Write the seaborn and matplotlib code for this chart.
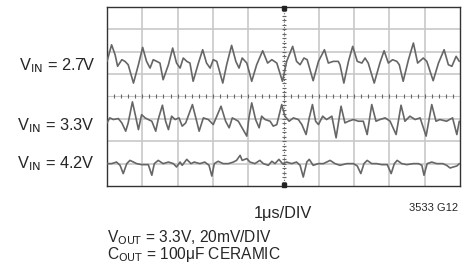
import numpy as np
import pandas as pd
import matplotlib
matplotlib.use('Agg')
import matplotlib.pyplot as plt
import seaborn as sns

# scope readings: time in us (1us/DIV), ripple in mV about each trace baseline (20mV/DIV)
t_27 = [0.00, 0.13, 0.23, 0.30, 0.42, 0.51, 0.60, 0.75, 0.89, 1.01, 1.12, 1.22, 1.31, 1.41,
        1.50, 1.59, 1.74, 1.86, 1.97, 2.07, 2.16, 2.26, 2.35, 2.44, 2.59, 2.71, 2.82, 2.92,
        3.01, 3.11, 3.28, 3.39, 3.53, 3.65, 3.74, 3.83, 3.96, 4.10, 4.24, 4.41, 4.55, 4.67,
        4.81, 4.97, 5.09, 5.26, 5.37, 5.47, 5.58, 5.67, 5.84, 5.99, 6.16, 6.27, 6.41, 6.55,
        6.60, 6.71, 6.84, 6.96, 7.09, 7.22, 7.31, 7.40, 7.57, 7.73, 7.85, 7.97, 8.09, 8.21,
        8.28, 8.39, 8.54, 8.68, 8.80, 8.96, 9.06, 9.24, 9.39, 9.55, 9.67, 9.77, 9.89, 9.98]
v_27 = [0.6, 15.4, 6.5, -3.8, 2.1, 0.6, -2.4, -18.8, -2.4, 13.1, 0.6, -5.4, 2.1, 0.6,
        -0.9, -15.8, -2.4, 12.5, -0.9, -5.4, 3.6, 0.6, -0.9, -17.2, -0.9, 11.0, -0.9, -5.4,
        2.1, 0.6, -18.8, -2.4, 14.9, 0.6, -5.4, 3.6, -0.9, -17.2, -2.4, 10.1, -0.9, 2.1,
        -0.9, -17.2, 0.6, 14.0, 0.6, -2.4, 3.6, 2.1, -16.7, 0.6, 11.0, -0.9, 0.6, 0.6,
        -2.4, -18.8, 0.6, 14.0, 0.6, -0.9, 3.6, -0.9, -18.8, -0.9, 10.1, -0.9, 2.1, 0.6,
        -2.4, -17.2, 2.1, 17.0, -0.9, 3.6, 0.6, -16.7, -0.9, 11.0, -2.4, -3.8, 5.1, 0.6]

t_33 = [0.00, 0.08, 0.18, 0.32, 0.42, 0.53, 0.60, 0.72, 0.81, 0.89, 0.98, 1.08, 1.17, 1.27,
        1.38, 1.45, 1.57, 1.66, 1.74, 1.83, 1.93, 2.04, 2.13, 2.23, 2.42, 2.54, 2.61, 2.73,
        2.87, 3.01, 3.23, 3.36, 3.46, 3.55, 3.72, 3.96, 4.02, 4.10, 4.21, 4.31, 4.38, 4.48,
        4.62, 4.71, 4.81, 4.95, 5.04, 5.16, 5.28, 5.42, 5.52, 5.64, 5.73, 5.82, 5.91, 5.99,
        6.11, 6.22, 6.37, 6.49, 6.63, 6.74, 6.84, 6.98, 7.12, 7.26, 7.37, 7.50, 7.62, 7.73,
        7.88, 8.02, 8.19, 8.33, 8.44, 8.58, 8.73, 8.87, 9.04, 9.20, 9.32, 9.43, 9.62, 9.79,
        9.91, 9.98]
v_33 = [-3.6, 0.9, -0.6, 0.3, -3.6, -11.0, -3.6, 15.2, 2.4, -9.6, 3.8, 0.9, -0.6, -2.1,
        -11.0, -0.6, 12.2, -2.1, -9.6, 2.4, -0.6, 0.9, -6.5, -3.6, 12.8, -2.1, -11.0, 0.9,
        -0.6, -5.1, 11.3, -2.1, -8.0, 0.9, -2.1, -15.4, 0.9, 14.3, -0.6, -8.0, 2.4, -0.6,
        -2.1, -6.5, -5.1, 12.8, 2.4, -2.1, 0.9, -0.6, -5.1, -14.0, 0.9, 12.8, -2.1, -5.1,
        2.4, -0.6, 2.4, -16.9, 11.3, -3.6, -2.1, -0.6, -2.1, -2.1, -14.0, 12.8, -2.1, -0.6,
        0.9, -2.1, -14.0, 12.2, -2.1, 2.4, -0.6, 0.9, -15.4, 12.8, -2.1, -0.6, -2.1, 0.9,
        -14.0, -2.1]

t_42 = [0.00, 0.13, 0.27, 0.37, 0.46, 0.56, 0.65, 0.75, 0.84, 0.98, 1.17, 1.27, 1.34, 1.45,
        1.59, 1.74, 1.88, 1.97, 2.07, 2.13, 2.26, 2.38, 2.47, 2.63, 2.77, 2.89, 2.97, 3.04,
        3.15, 3.29, 3.44, 3.58, 3.67, 3.77, 3.83, 3.96, 4.05, 4.19, 4.33, 4.43, 4.57, 4.67,
        4.76, 4.87, 4.97, 5.09, 5.23, 5.37, 5.47, 5.56, 5.66, 5.73, 5.84, 5.99, 6.13, 6.32,
        6.46, 6.60, 6.79, 6.98, 7.09, 7.19, 7.28, 7.37, 7.50, 7.64, 7.78, 7.94, 8.05, 8.14,
        8.22, 8.35, 8.49, 8.68, 8.82, 8.92, 8.98, 9.07, 9.20, 9.34, 9.51, 9.62, 9.72, 9.81,
        9.91, 9.98]
v_42 = [0.0, 0.0, 1.4, -1.5, -8.9, 0.0, 2.9, 1.4, 0.0, -0.9, -0.9, -10.4, 0.0, 2.9,
        0.0, 1.4, 0.0, -3.0, 1.4, -1.5, 3.8, 0.0, 1.4, 0.0, 1.4, -1.5, -11.1, 0.0,
        2.1, 0.0, 0.0, 1.4, 2.9, 7.4, 2.9, 4.5, 1.4, 0.0, 2.9, 0.0, -1.5, 2.1,
        0.0, 3.8, 0.0, 1.4, 0.0, 1.4, -1.5, -12.0, 1.4, 3.8, -1.5, 0.0, 0.0, 2.9,
        0.0, -1.5, 0.0, 0.0, -2.1, -8.9, 0.0, 2.9, 0.0, 0.0, -0.9, -0.9, -8.9, 0.0,
        2.9, 0.0, -0.9, 0.0, 0.0, -1.5, -10.4, 0.0, 1.4, 0.0, 0.0, -1.5, -3.9, -3.0,
        -2.1, 0.0]

trace_names = ['2.7V', '3.3V', '4.2V']
trace_offsets = [110.8, 60.0, 20.0]   # mV on the screen, 0 = bottom graticule line

frames = []
for name, t, v, off in zip(trace_names, [t_27, t_33, t_42], [v_27, v_33, v_42], trace_offsets):
    frames.append(pd.DataFrame({'t': t, 'mV': np.array(v) + off, 'trace': name}))
df = pd.concat(frames, ignore_index=True)

sns.set_style('white')
plt.rcParams['font.family'] = ['Liberation Sans Narrow', 'Liberation Sans', 'DejaVu Sans']
plt.rcParams['mathtext.fontset'] = 'custom'
plt.rcParams['mathtext.rm'] = 'Liberation Sans Narrow'
plt.rcParams['mathtext.it'] = 'Liberation Sans Narrow'

fig = plt.figure(figsize=(4.77, 2.75), dpi=100)
ax = fig.add_axes([107 / 477, 1 - 186 / 275, 353 / 477, 179 / 275])

# graticule
grid_col = '#c8c8c8'
for gx in range(1, 10):
    if gx != 5:
        ax.axvline(gx, color=grid_col, lw=1.2, zorder=1)
for gy in range(1, 8):
    if gy != 4:
        ax.axhline(gy * 20, color=grid_col, lw=1.2, zorder=1)
ax.axhline(80, color=grid_col, lw=0.8, zorder=1)
ax.axvline(5, color='#666666', lw=0.8, ls=(0, (1, 1.5)), zorder=1)
sub_x = np.arange(0.2, 10, 0.2)
ax.plot(sub_x, np.full_like(sub_x, 80), ls='none', marker='|', ms=2.5, mew=0.8, color='#666666', zorder=2)
sub_y = np.arange(4, 160, 4)
ax.plot(np.full_like(sub_y, 5.0, dtype=float), sub_y, ls='none', marker='_', ms=2.5, mew=0.8, color='#666666', zorder=2)
ax.plot([5, 5], [159, 1], ls='none', marker='s', ms=2.5, color='#222222', zorder=3, clip_on=False)

sns.lineplot(data=df, x='t', y='mV', hue='trace', palette=['#666666'] * 3, estimator=None,
             sort=False, legend=False, lw=1.2, ax=ax, zorder=4)

ax.set_xlim(0, 10)
ax.set_ylim(0, 160)
ax.set_xticks([])
ax.set_yticks([])
ax.set_xlabel('')
ax.set_ylabel('')
for s in ax.spines.values():
    s.set_color('#333333')
    s.set_linewidth(1.0)

fs = 11.8
for lab, yb in zip(trace_names, [0.743, 0.525, 0.388]):
    fig.text(0.199, yb, r'V$_{\mathrm{IN}}$ = ' + lab, ha='right', va='baseline', fontsize=fs)

fig.text(283 / 477, 0.209, '1μs/DIV', ha='center', va='baseline', fontsize=fs)
fig.text(458 / 477, 0.234, '3533 G12', ha='right', va='baseline', fontsize=8)
fig.text(107 / 477, 1 - 242 / 275, r'V$_{\mathrm{OUT}}$ = 3.3V, 20mV/DIV', ha='left', va='baseline', fontsize=11.2)
fig.text(107 / 477, 1 - 259 / 275, r'C$_{\mathrm{OUT}}$ = 100μF CERAMIC', ha='left', va='baseline', fontsize=11.2)

fig.savefig('out.png', dpi=100)
